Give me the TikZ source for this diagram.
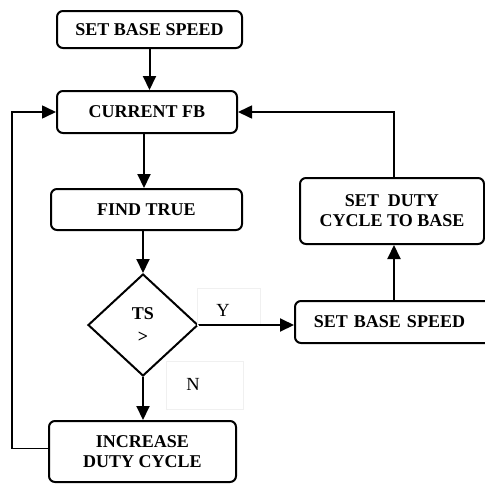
\documentclass[tikz,border=0pt]{standalone}
\usepackage{fontspec}
\setmainfont{Liberation Serif}
\usetikzlibrary{shapes.geometric,arrows.meta}
\begin{document}
\begin{tikzpicture}[x=1pt,y=-1pt,
  stepbox/.style={draw,line width=2pt,rounded corners=6pt,align=center,
    font=\bfseries\fontsize{18}{20}\selectfont,inner sep=0pt},
  decision/.style={draw,line width=2pt,diamond,inner sep=0pt,
    minimum width=110pt,minimum height=102pt,align=center,
    font=\bfseries\fontsize{18}{20}\selectfont},
  flow/.style={line width=2pt,-{Triangle[length=14pt,width=13pt]}},
  loop/.style={line width=1.6pt,-{Triangle[length=14pt,width=13pt]}},
  tag/.style={draw=black!6,line width=0.8pt},
  tagtext/.style={font=\fontsize{18.5}{20}\selectfont,inner sep=0pt}]
\useasboundingbox (0,0) rectangle (485,485);

% process boxes
\node[stepbox,minimum width=185pt,minimum height=37pt] (sbs) at (149.5,29.5) {SET BASE SPEED};
\node[stepbox,minimum width=180pt,minimum height=42pt] (cfb) at (147,112) {CURRENT FB};
\node[stepbox,minimum width=191pt,minimum height=41pt] (ft) at (146.5,209.5) {FIND TRUE};
\node[decision] (ts) at (143,325) {TS\\[3pt]>};
\node[stepbox,minimum width=187pt,minimum height=61pt] (inc) at (142.5,451.5) {INCREASE\\DUTY CYCLE};
\node[stepbox,minimum width=184pt,minimum height=66pt] (sdc) at (392,211) {SET\ \ DUTY\\CYCLE TO BASE};
\node[stepbox,minimum width=200pt,minimum height=42pt,text width=200pt] (sbs2) at (395,322) {\hspace*{-11pt}SET BASE SPEED};

% branch labels
\node[tag,minimum width=63pt,minimum height=37pt] (ybox) at (229,306.5) {};
\node[tagtext] (ylab) at (223,310) {Y};
\node[tag,minimum width=77pt,minimum height=48pt] (nbox) at (204.5,385) {};
\node[tagtext] (nlab) at (193,384) {N};

% connectors
\draw[flow] (sbs) -- (sbs.south |- cfb.north);
\draw[flow] (cfb.south -| ft.north) ++(-2.5,0) coordinate (c1) -- (c1 |- ft.north);
\draw[flow] (ft.south) ++(-3.5,0) coordinate (c2) -- (c2 |- ts.north);
\draw[flow] (ts.east) -- (ts.east -| sbs2.west);
\draw[flow] (ts.south) -- (ts.south |- inc.north);
\draw[flow] (sbs2.north) ++(-1,0) coordinate (c3) -- (c3 |- sdc.south);
\coordinate (rtop) at ([xshift=2pt]sdc.north |- cfb.east);
\draw[loop] ([xshift=2pt]sdc.north) -- (rtop) -- (cfb.east);
\coordinate (lbot) at ([yshift=3pt]inc.west -| 12,0);
\coordinate (ltop) at (cfb.west -| 12,0);
\draw[loop] ([yshift=3pt]inc.west) -- (lbot) -- (ltop) -- (cfb.west);
\end{tikzpicture}
\end{document}
